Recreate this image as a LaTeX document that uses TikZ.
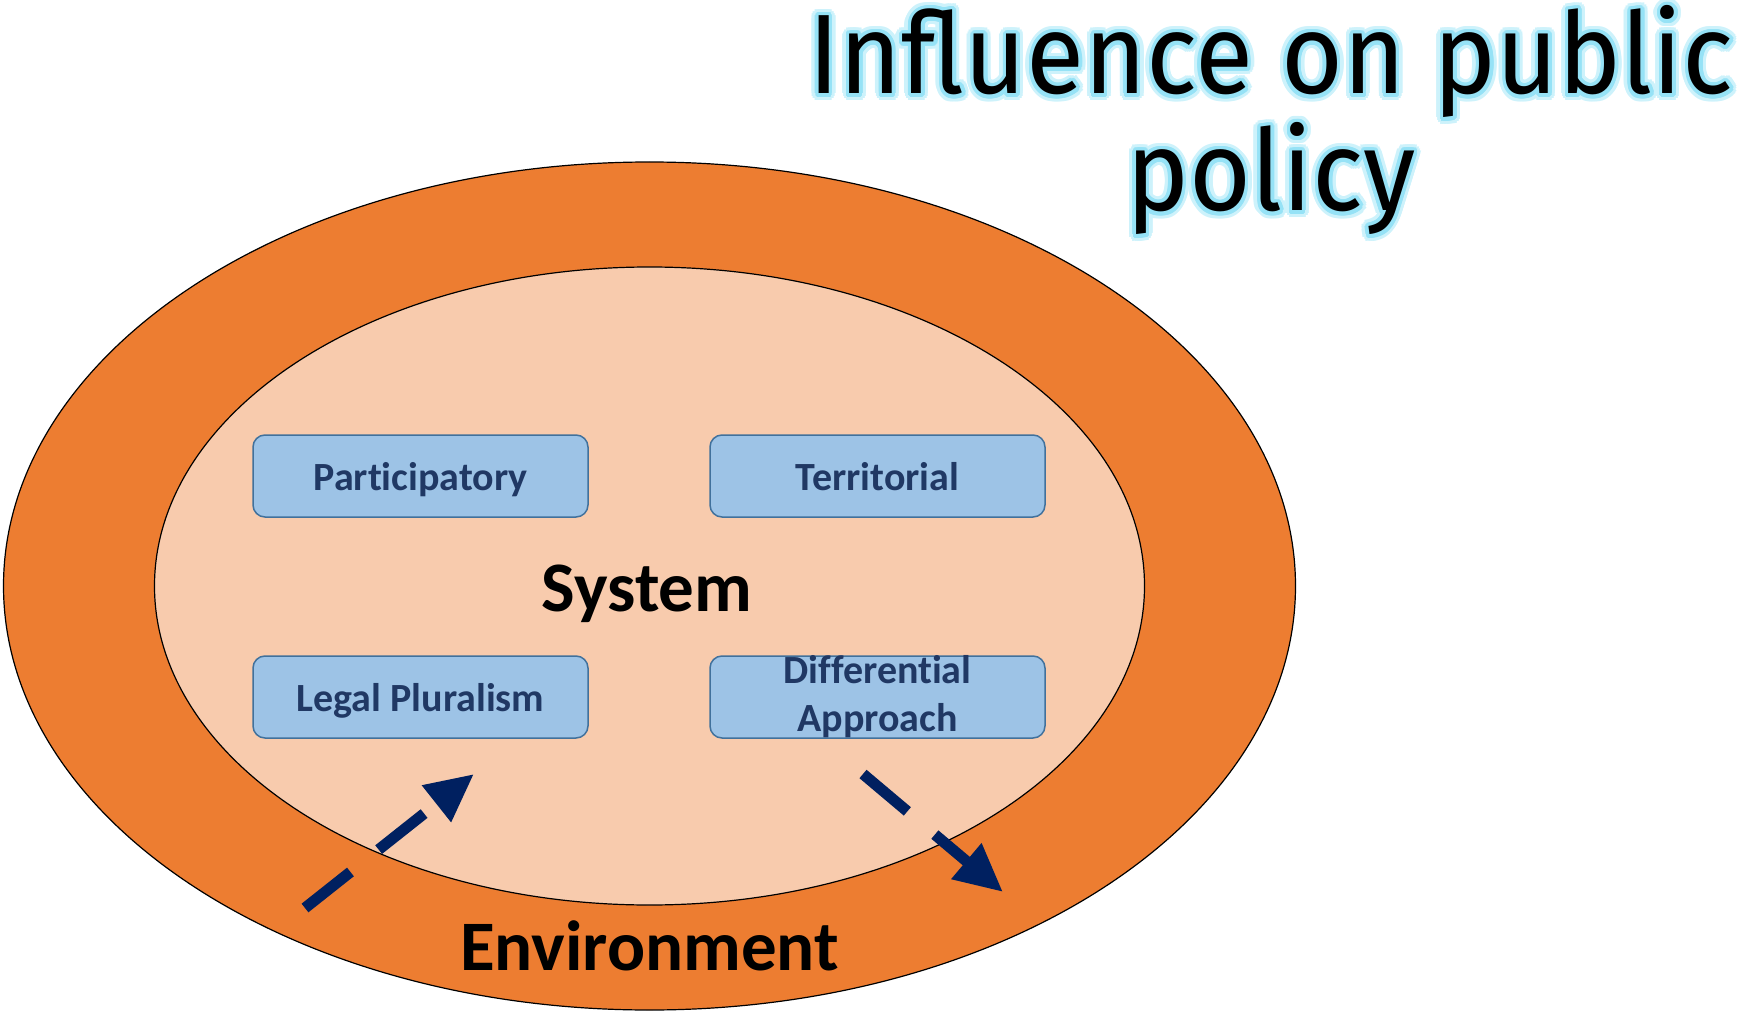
\documentclass[tikz,border=0pt]{standalone}
\usepackage{fontspec}
\setmainfont{Carlito}[Ligatures=NoCommon]
\newfontfamily\titlefont{Fira Sans}[FakeStretch=0.94]
\usetikzlibrary{arrows.meta}

\definecolor{envorange}{HTML}{ED7D31}
\definecolor{syspeach}{HTML}{F8CBAD}
\definecolor{boxfill}{HTML}{9DC3E6}
\definecolor{boxline}{HTML}{41719C}
\definecolor{boxtext}{HTML}{203864}
\definecolor{arrownavy}{HTML}{002060}
\definecolor{glowouter}{RGB}{205,242,251}
\definecolor{glowinner}{RGB}{150,226,246}

\begin{document}
\begin{tikzpicture}[x=1pt, y=-1pt,
  pillar/.style={draw=boxline, fill=boxfill, line width=1.5pt, rounded corners=12pt,
    minimum width=335pt, minimum height=82pt, align=center, text=boxtext,
    font=\fontsize{40}{48}\selectfont\bfseries},
  oneline/.style={text height=28pt, text depth=0pt},
  biglabel/.style={font=\fontsize{71}{80}\selectfont\bfseries},
  headline/.style={anchor=base, font=\titlefont\fontsize{113}{117}\selectfont},
  flow/.style={draw=arrownavy, line width=11pt, dash pattern=on 58pt off 36pt,
    -{Triangle[length=48pt, width=44pt]}}]
\useasboundingbox (0,0) rectangle (1741,1011);

%% environment and system (px coordinates, y down)
\draw[fill=envorange, line width=1.2pt] (649.5,586) ellipse [x radius=646, y radius=424];
\draw[fill=syspeach, line width=1.2pt] (649.5,586) ellipse [x radius=495, y radius=319];

\node[biglabel] (system) at (647,594) {System};
\node[biglabel] (env) at (649.5,946) {Environment};

% the four pillars
\node[pillar, oneline] (partic) at (420.5,476) {Participatory};
\node[pillar, oneline] (territ) at (877.5,476) {Territorial};
\node[pillar, oneline] (legal) at (420.5,697) {Legal Pluralism};
\node[pillar, inner ysep=-5pt] (diff) at (877.5,697) {Differential\\Approach};

% in and out of the system
\coordinate (inStart) at (305,908);
\coordinate (inEnd) at (474,774);
\coordinate (outStart) at (863,774);
\coordinate (outEnd) at (1003,892);
\draw[flow] (inStart) -- (inEnd);
\draw[flow] (outStart) -- (outEnd);

%% title with glow
\foreach \a in {0,20,...,340}
  {
  \path (1271,94) ++(\a:7) node[headline, text=glowouter] {Influence on public};
  \path (1271,211) ++(\a:7) node[headline, text=glowouter] {policy};
  }
\foreach \a in {0,20,...,340}
  {
  \path (1271,94) ++(\a:3.5) node[headline, text=glowinner] {Influence on public};
  \path (1271,211) ++(\a:3.5) node[headline, text=glowinner] {policy};
  }
\node[headline] (titleA) at (1271,94) {Influence on public};
\node[headline] (titleB) at (1271,211) {policy};

\end{tikzpicture}
\end{document}
